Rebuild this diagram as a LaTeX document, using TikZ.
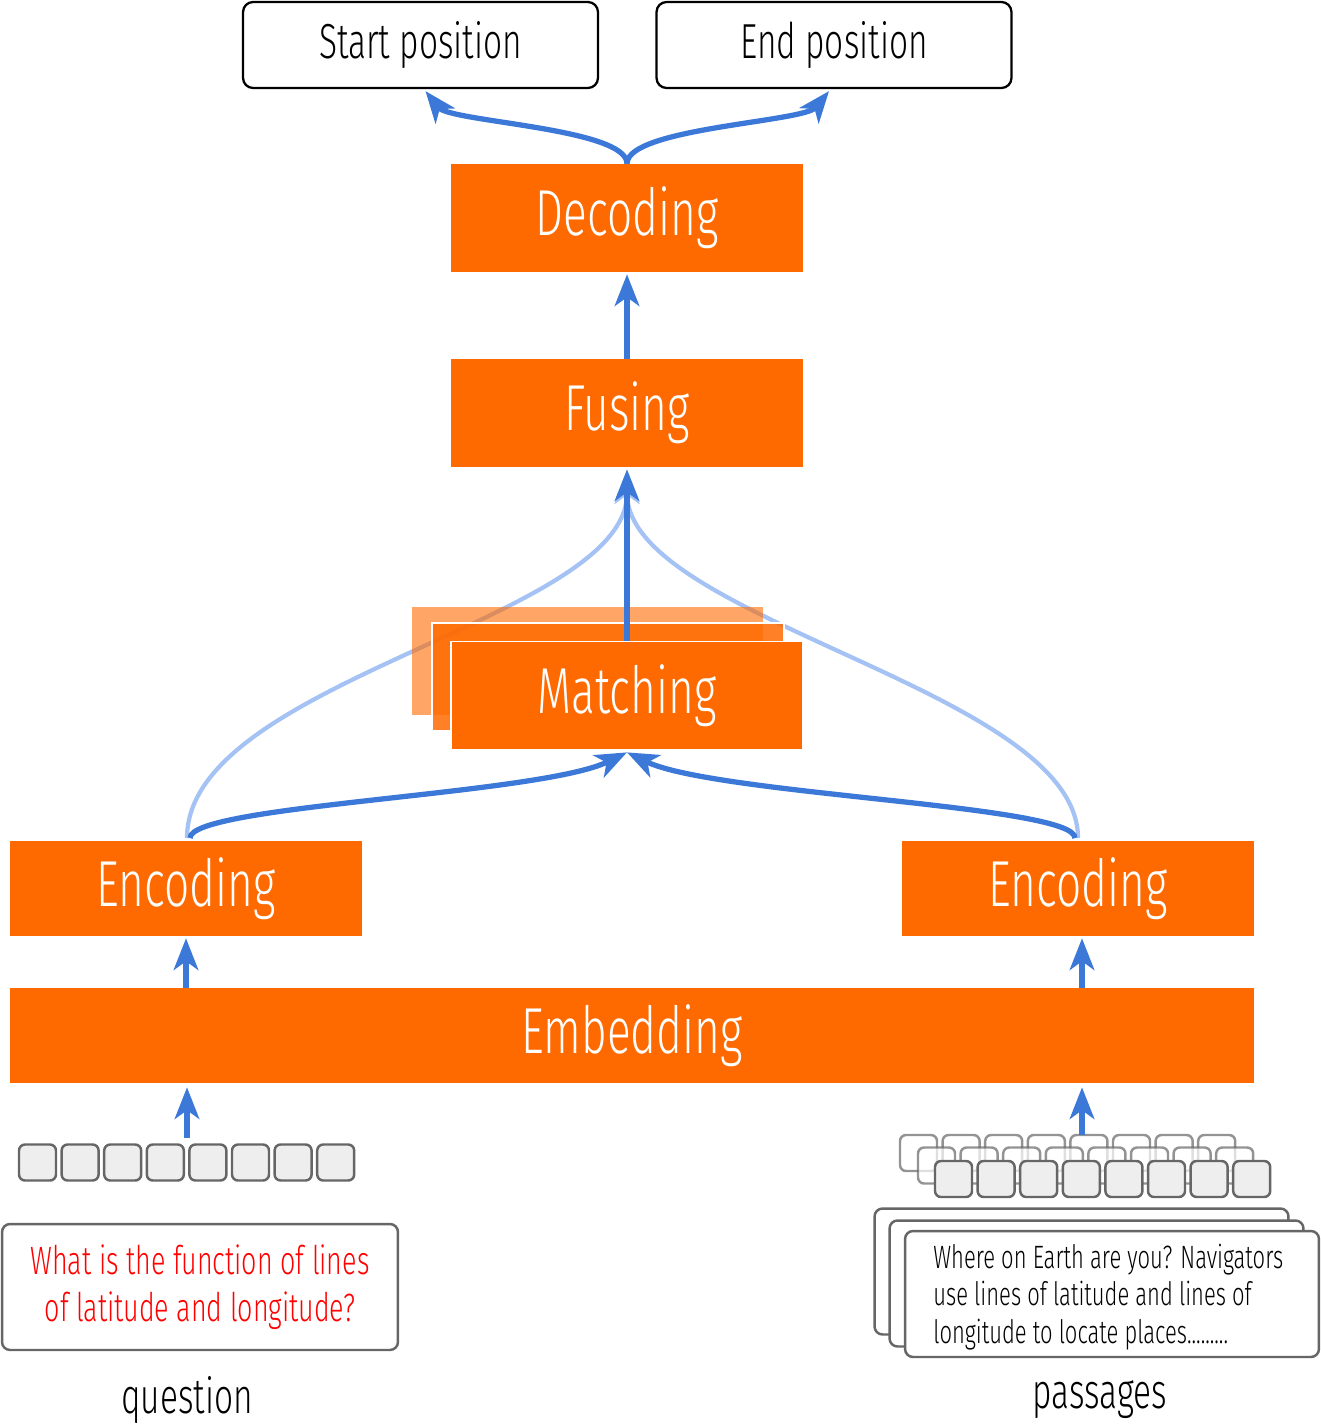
\documentclass[tikz,border=0pt]{standalone}
\usepackage{fontspec}
\setmainfont{Fira Sans Light}[FakeStretch=0.68]
\usetikzlibrary{arrows.meta,positioning}
\definecolor{boxorange}{HTML}{FF6A00}
\definecolor{darkblue}{HTML}{3C78D8}
\definecolor{lightblue}{HTML}{A4C2F4}
\definecolor{tokengray}{HTML}{EEEEEE}
\definecolor{edgegray}{HTML}{666666}
\tikzset{
  layer/.style={fill=boxorange, text=white, inner sep=0pt, minimum width=7.04cm, minimum height=2.16cm, font=\fontsize{37}{40}\selectfont},
  outbox/.style={draw=black, line width=1.3pt, rounded corners=0.2cm, fill=white, minimum width=7.1cm, minimum height=1.72cm, font=\fontsize{28}{30}\selectfont},
  token/.style={draw=edgegray, fill=tokengray, line width=1.4pt, rounded corners=0.12cm, minimum width=0.74cm, minimum height=0.72cm, inner sep=0pt},
  textbox/.style={draw=edgegray, fill=white, line width=1.4pt, rounded corners=0.16cm, minimum width=8.28cm, minimum height=2.52cm},
  flow/.style={draw=darkblue, line width=3pt, -{Stealth[length=18pt,width=14pt,inset=5pt]}},
  soft/.style={draw=lightblue, line width=2.4pt, -{Stealth[length=18pt,width=14pt,inset=5pt]}}
}
\begin{document}
\begin{tikzpicture}[x=0.02cm, y=-0.02cm]

    % Fix the page size
    \useasboundingbox (0,0) rectangle (1321,1426);

    % Output boxes
    \node[outbox] (start) at (420.5,45) {Start position};
    \node[outbox] (finish) at (834,45) {End position};

    % Light curves from the encoders to the fusing layer (drawn first, behind)
    \coordinate (fusin) at (627,472);
    \draw[soft] (187,838) .. controls (187,680) and (627,620) .. (fusin);
    \draw[soft] (1078,838) .. controls (1078,690) and (627,620) .. (fusin);

    % Stack of matching layers
    \node[layer, fill opacity=0.6] (match2) at (587.5,661) {};
    \node[layer, fill opacity=0.85, draw=white, line width=1pt] (match1) at (608,677) {};
    \node[layer, draw=white, line width=1pt] (match) at (627,695.5) {Matching};

    % Upper layers
    \node[layer] (fus) at (627,413) {Fusing};
    \node[layer] (dec) at (627,218) {Decoding};

    % Encoders and embedding
    \node[layer, minimum height=1.9cm] (encq) at (186,888.5) {Encoding};
    \node[layer, minimum height=1.9cm] (encp) at (1078,888.5) {Encoding};
    \node[layer, minimum height=1.9cm, minimum width=24.88cm] (emb) at (632,1035.5) {Embedding};

    % Question tokens
    \foreach \i in {0,...,7}
        \node[token] (qt\i) at (37.5+\i*42.6,1162.5) {};

    % Passage tokens, three rows from back to front
    \foreach \i in {0,...,7}
        \node[token, fill=white, opacity=0.7] (pa\i) at (918.5+\i*42.6,1153) {};
    \foreach \i in {0,...,7}
        \node[token, fill=white, opacity=0.7] (pb\i) at (936.5+\i*42.6,1165.5) {};
    \foreach \i in {0,...,7}
        \node[token] (pc\i) at (953.5+\i*42.6,1179) {};

    % Question box
    \node[textbox, minimum width=7.92cm, align=center, text=red, font=\fontsize{22.5}{27}\selectfont] (qbox) at (200,1287)
        {What is the function of lines\\of latitude and longitude?};

    % Passage boxes, from back to front
    \node[textbox] (pbox2) at (1081.5,1271.5) {};
    \node[textbox] (pbox1) at (1096.5,1283.5) {};
    \node[textbox] (pbox) at (1112,1294) {};
    \node[anchor=west, align=left, inner sep=0pt, font=\fontsize{18.4}{21.2}\selectfont] (ptext) at (933,1297)
        {Where on Earth are you? Navigators\\use lines of latitude and lines of\\longitude to locate places.........};

    % Captions
    \node[font=\fontsize{28}{30}\selectfont] (qlabel) at (187,1400) {question};
    \node[font=\fontsize{28}{30}\selectfont] (plabel) at (1100,1400) {passages};

    % Inputs into the embedding
    \coordinate (qin) at (187,1138);
    \coordinate (pin) at (1082,1135);
    \draw[flow] (qin) -- ([yshift=-0.08cm]qin |- emb.south);
    \draw[flow] (pin) -- ([yshift=-0.08cm]pin |- emb.south);

    % Embedding into the encoders
    \draw[flow] (encq.south |- emb.north) -- ([yshift=-0.04cm]encq.south);
    \draw[flow] ([xshift=0.08cm]encp.south |- emb.north) -- ([xshift=0.08cm,yshift=-0.04cm]encp.south);

    % Encoders into matching
    \draw[flow] (190,838) .. controls (190,805) and (540,795) .. ([yshift=-0.04cm]match.south);
    \draw[flow] (1075,838) .. controls (1075,805) and (715,795) .. ([yshift=-0.04cm]match.south);

    % Matching into fusing, fusing into decoding
    \draw[flow] (match.north) -- ([yshift=-0.04cm]fus.south);
    \draw[flow] (fus.north) -- ([yshift=-0.04cm]dec.south);

    % Decoding into the two outputs
    \draw[flow] (dec.north) .. controls (627,128) and (450,122) .. ([xshift=0.1cm,yshift=-0.04cm]start.south);
    \draw[flow] (dec.north) .. controls (627,128) and (804,122) .. ([xshift=-0.1cm,yshift=-0.04cm]finish.south);

\end{tikzpicture}
\end{document}
